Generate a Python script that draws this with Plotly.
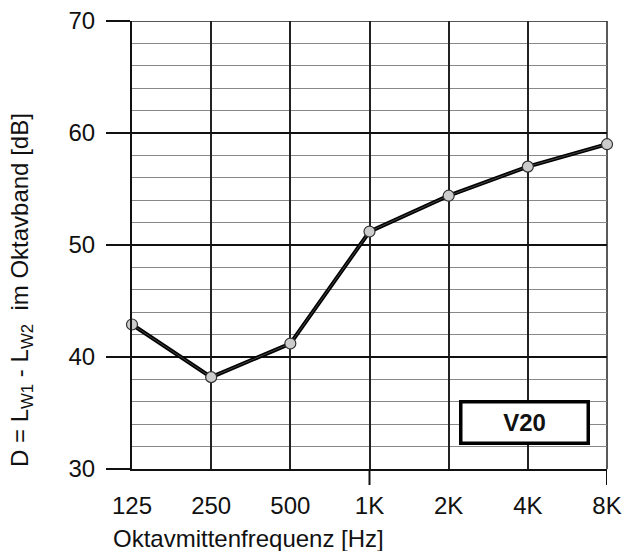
import plotly.graph_objects as go

categories = ["125", "250", "500", "1K", "2K", "4K", "8K"]
values = [42.9, 38.2, 41.2, 51.2, 54.4, 57.0, 59.0]
y_ticks = [30, 40, 50, 60, 70]
label_text = "V20"

xs = list(range(len(categories)))
FONT = "Liberation Sans, Arial, Helvetica, sans-serif"

PL, PT, PR, PB = 132, 21, 607, 469  # plot area in window pixels
W, H = 623, 551
pw, ph = PR - PL, PB - PT


def px(x):
    return (x - PL) / pw


def py(y):
    return (PB - y) / ph


fig = go.Figure()
fig.add_trace(go.Scatter(x=xs, y=values, mode="lines",
                         line=dict(color="black", width=4), hoverinfo="skip", showlegend=False))
fig.add_trace(go.Scatter(x=xs, y=values, mode="lines+markers", cliponaxis=False,
                         line=dict(color="#444", width=1),
                         marker=dict(size=11, color="#cccccc", line=dict(color="#333", width=1.2)),
                         showlegend=False))

fig.update_layout(
    width=W, height=H,
    margin=dict(l=PL, r=W - PR, t=PT, b=H - PB, autoexpand=False),
    paper_bgcolor="white", plot_bgcolor="white",
    font=dict(family=FONT, size=24, color="#111"),
    xaxis=dict(range=[0, 6], tickvals=xs, ticktext=categories, showgrid=True,
               gridcolor="#222", gridwidth=1.5, zeroline=False, showline=True,
               linecolor="#111", linewidth=2, ticks="", ticklabelstandoff=14,
               automargin=False, ticklabeloverflow="allow", tickfont=dict(size=24)),
    yaxis=dict(range=[30, 70], tickvals=y_ticks, showgrid=True, gridcolor="#111",
               gridwidth=1.8, zeroline=False, showline=True, linecolor="#111",
               linewidth=2, ticks="outside", ticklen=24, tickwidth=1.5, tickcolor="#111",
               ticklabelstandoff=6, automargin=False, ticklabeloverflow="allow",
               tickfont=dict(size=24),
               minor=dict(dtick=2, showgrid=True, gridcolor="#888", gridwidth=1.2)),
    shapes=[
        dict(type="line", xref="paper", yref="y", x0=0, x1=1, y0=70, y1=70,
             line=dict(color="#555", width=2), layer="below"),
        dict(type="line", xref="x", yref="paper", x0=3, x1=3, y0=0, y1=-16 / ph,
             line=dict(color="#111", width=2)),
        dict(type="line", xref="x", yref="paper", x0=6, x1=6, y0=0, y1=-16 / ph,
             line=dict(color="#111", width=2)),
        dict(type="line", xref="paper", yref="paper", x0=1, x1=1, y0=0, y1=1,
             line=dict(color="#222", width=1.5), layer="below"),
    ],
    annotations=[
        dict(text="Oktavmittenfrequenz [Hz]", xref="paper", yref="paper",
             x=px(248), y=py(538), xanchor="center", yanchor="middle",
             showarrow=False, font=dict(size=24, color="#111")),
        dict(text="D = L<sub>W1</sub> - L<sub>W2</sub>  im Oktavband [dB]", xref="paper", yref="paper",
             x=px(21), y=py(290), textangle=-90,
             xanchor="center", yanchor="middle", showarrow=False,
             font=dict(size=24, color="#111")),
        dict(text="<b>" + label_text + "</b>", xref="paper", yref="paper",
             x=px(524), y=py(422), xanchor="center", yanchor="middle",
             showarrow=False, font=dict(size=24, color="#111"),
             bgcolor="white", bordercolor="black", borderwidth=3.5,
             width=122, height=36),
    ],
)

fig.write_html("out.html", config={"displayModeBar": False},
               post_script="document.body.style.margin='0';document.body.style.overflow='hidden';")
